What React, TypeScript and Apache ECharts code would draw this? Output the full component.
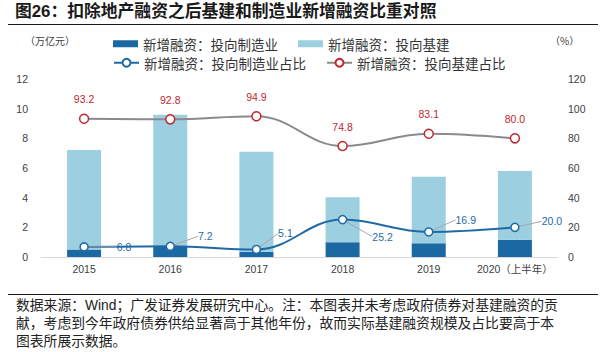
import React, { useEffect, useRef } from "react";
import * as echarts from "echarts";

const years = ["2015", "2016", "2017", "2018", "2019", "2020（上半年）"];
const manuFin = [0.5, 0.71, 0.36, 1.0, 0.93, 1.16];
const infraFin = [6.72, 8.88, 6.74, 3.02, 4.48, 4.64];
const manuShare = [6.8, 7.2, 5.1, 25.2, 16.9, 20.0];
const infraShare = [93.2, 92.8, 94.9, 74.8, 83.1, 80.0];
const leftTicks = [0, 2, 4, 6, 8, 10, 12];
const rightTicks = [0, 20, 40, 60, 80, 100, 120];

const titleText = "图26：扣除地产融资之后基建和制造业新增融资比重对照";
const noteLines = [
  "数据来源：Wind；广发证券发展研究中心。注：本图表并未考虑政府债券对基建融资的贡",
  "献，考虑到今年政府债券供给显著高于其他年份，故而实际基建融资规模及占比要高于本",
  "图表所展示数据。",
];

const NAMES = {
  manuBar: "新增融资：投向制造业",
  infraBar: "新增融资：投向基建",
  manuLine: "新增融资：投向制造业占比",
  infraLine: "新增融资：投向基建占比",
};

const manuLabelOffsets = [
  [40, 0],
  [35, -10],
  [29, -16],
  [40, 17],
  [37, -12],
  [37, -6],
];

const NUM_FONT = "'Liberation Sans', Arial, 'Noto Sans CJK SC', sans-serif";
const CJK_FONT = "'Noto Sans CJK SC', 'Liberation Sans', sans-serif";

const DARK = "#1b69a3";
const LIGHT = "#9ccfe0";
const RED = "#c0272d";
const GRAY = "#8a8a8a";

export default function App() {
  const ref = useRef<HTMLDivElement>(null);
  useEffect(() => {
    if (!ref.current) return;
    const chart = echarts.init(ref.current, null, { renderer: "svg" });
    const option: any = {
      animation: false,
      backgroundColor: "#ffffff",
      textStyle: { fontFamily: NUM_FONT },
      grid: { left: 41, right: 47, top: 79, bottom: 95, containLabel: false },
      legend: [
        {
          data: [NAMES.manuBar, NAMES.infraBar],
          left: 108,
          top: 32,
          itemWidth: 25,
          itemHeight: 7,
          itemGap: 20,
          icon: "rect",
          textStyle: { fontFamily: CJK_FONT, fontSize: 13.5, color: "#333", width: 175 },
          selectedMode: false,
        },
        {
          data: [NAMES.manuLine, NAMES.infraLine],
          left: 108,
          top: 51,
          itemWidth: 25,
          itemHeight: 10,
          itemGap: 20,
          textStyle: { fontFamily: CJK_FONT, fontSize: 13.5, color: "#333", width: 175 },
          selectedMode: false,
        },
      ],
      xAxis: {
        type: "category",
        data: years,
        axisLine: { lineStyle: { color: "#d9d9d9", width: 1 } },
        axisTick: { show: false },
        axisLabel: {
          interval: 0,
          color: "#404040",
          fontSize: 10.5,
          margin: 7,
          fontFamily: NUM_FONT,
        },
      },
      yAxis: [
        {
          type: "value",
          min: leftTicks[0],
          max: leftTicks[leftTicks.length - 1],
          interval: 2,
          splitLine: { show: false },
          axisLine: { show: false },
          axisTick: { show: false },
          axisLabel: { color: "#404040", fontSize: 10.5, margin: 13, fontFamily: NUM_FONT },
        },
        {
          type: "value",
          min: rightTicks[0],
          max: rightTicks[rightTicks.length - 1],
          interval: 20,
          splitLine: { show: false },
          axisLine: { show: false },
          axisTick: { show: false },
          axisLabel: { color: "#404040", fontSize: 10.5, margin: 10, fontFamily: NUM_FONT },
        },
      ],
      series: [
        {
          name: NAMES.manuBar,
          type: "bar",
          stack: "fin",
          data: manuFin,
          barWidth: 34,
          itemStyle: { color: DARK },
        },
        {
          name: NAMES.infraBar,
          type: "bar",
          stack: "fin",
          data: infraFin,
          barWidth: 34,
          itemStyle: { color: LIGHT },
        },
        {
          name: NAMES.manuLine,
          type: "line",
          yAxisIndex: 1,
          data: manuShare,
          smooth: 0.4,
          symbol: "circle",
          symbolSize: 8,
          lineStyle: { color: "#1f6aa6", width: 2 },
          itemStyle: { color: "#ffffff", borderColor: "#1f6aa6", borderWidth: 1.5 },
          label: {
            show: true,
            position: "inside",
            color: "#1f6aa6",
            fontSize: 10.5,
            fontFamily: NUM_FONT,
            formatter: (p: any) => Number(p.value).toFixed(1),
          },
          labelLine: { show: true, lineStyle: { color: "#a6a6a6", width: 1 } },
          labelLayout: (p: any) => {
            const o = manuLabelOffsets[p.dataIndex] || [0, 0];
            return { dx: o[0], dy: o[1] };
          },
          z: 5,
        },
        {
          name: NAMES.infraLine,
          type: "line",
          yAxisIndex: 1,
          data: infraShare,
          smooth: 0.4,
          symbol: "circle",
          symbolSize: 9,
          lineStyle: { color: GRAY, width: 2 },
          itemStyle: { color: "#ffffff", borderColor: RED, borderWidth: 1.5 },
          label: {
            show: true,
            position: "top",
            distance: 9,
            color: RED,
            fontSize: 10.5,
            fontFamily: NUM_FONT,
            formatter: (p: any) => Number(p.value).toFixed(1),
          },
          z: 5,
        },
      ],
      graphic: [
        {
          type: "text",
          left: 15,
          top: 3,
          style: {
            text: titleText,
            fontSize: 16.8,
            fontWeight: "bold",
            fontFamily: NUM_FONT,
            fill: "#1a1a1a",
          },
        },
        {
          type: "line",
          shape: { x1: 8, y1: 24.5, x2: 598, y2: 24.5 },
          style: { stroke: "#1a1a1a", lineWidth: 1.2 },
        },
        {
          type: "text",
          left: 25,
          top: 35,
          style: { text: "（万亿元）", fontSize: 10, fontFamily: CJK_FONT, fill: "#404040" },
        },
        {
          type: "text",
          left: 550,
          top: 35,
          style: { text: "（%）", fontSize: 10, fontFamily: CJK_FONT, fill: "#404040" },
        },
        {
          type: "line",
          shape: { x1: 8, y1: 294.5, x2: 598, y2: 294.5 },
          style: { stroke: "#1a1a1a", lineWidth: 1.2 },
        },
        ...noteLines.map((t, i) => ({
          type: "text",
          left: 16,
          top: 298 + i * 18,
          style: {
            text: t,
            fontSize: 13.8,
            lineHeight: 15,
            fontFamily: NUM_FONT,
            fill: "#222",
          },
        })),
      ],
    };
    chart.setOption(option);
    return () => chart.dispose();
  }, []);
  return (
    <div
      ref={ref}
      style={{ position: "fixed", left: 0, top: 0, width: 605, height: 352 }}
    />
  );
}
